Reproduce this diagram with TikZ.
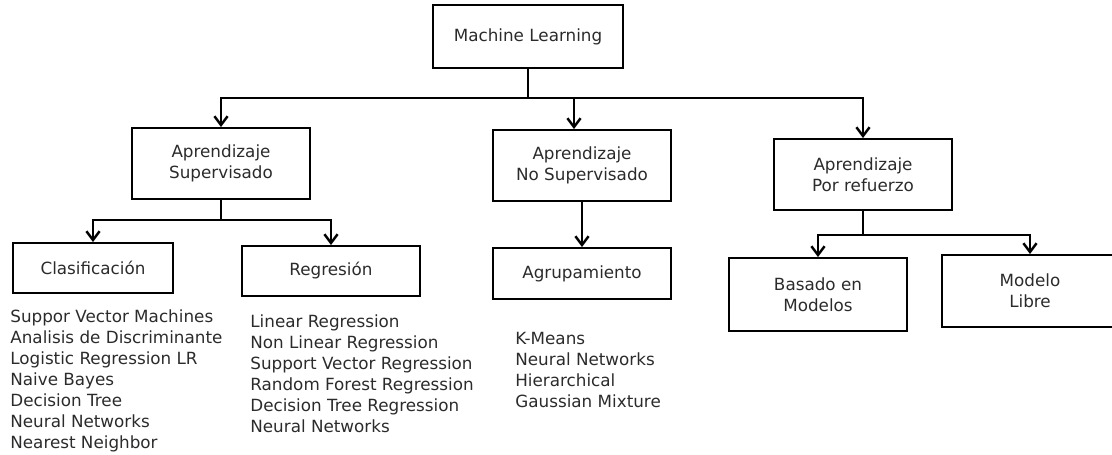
\documentclass[tikz,border=0pt]{standalone}
\usepackage{fontspec}
\setmainfont{DejaVu Sans}
\usetikzlibrary{arrows.meta,positioning}
\definecolor{cline}{HTML}{000000}
\definecolor{ctext}{HTML}{2B2B2B}

\begin{document}
\begin{tikzpicture}[x=0.02cm, y=-0.02cm,
  font=\fontsize{9.55}{11.9}\selectfont, text=ctext,
  box/.style={draw=cline, line width=1.1pt, align=center, inner sep=0pt},
  wire/.style={draw=cline, line width=1.1pt},
  arr/.style={wire, -{Straight Barb[length=5pt, width=7.5pt, line width=1.4pt]}},
  item/.style={anchor=base west, inner sep=0pt}]
\useasboundingbox (0,0) rectangle (1112,454);
%% ------------------------------------------------------------------ boxes
\node[box, minimum width=3.8cm, minimum height=1.26cm] (ml) at (528,36.5) {Machine Learning};
\node[box, minimum width=3.56cm, minimum height=1.42cm] (sup) at (221,163.5) {Aprendizaje\\Supervisado};
\node[box, minimum width=3.56cm, minimum height=1.42cm] (nosup) at (582,165.5) {Aprendizaje\\No Supervisado};
\node[box, minimum width=3.56cm, minimum height=1.42cm] (ref) at (863,174.5) {Aprendizaje\\Por refuerzo};
\node[box, minimum width=3.2cm, minimum height=1.0cm] (clas) at (93,268) {Clasificación};
\node[box, minimum width=3.56cm, minimum height=1.0cm] (reg) at (331,271) {Regresión};
\node[box, minimum width=3.56cm, minimum height=1.02cm] (agr) at (582,273.5) {Agrupamiento};
\node[box, minimum width=3.56cm, minimum height=1.46cm] (bas) at (818,294.5) {Basado en\\Modelos};
\node[box, minimum width=3.52cm, minimum height=1.44cm] (lib) at (1030,291) {Modelo\\Libre};
%% ------------------------------------------------------------------ connectors
\coordinate (bus) at (0,98);
\coordinate (sbus) at (0,220);
\coordinate (rbus) at (0,235);
\draw[wire] (ml.south) -- (ml.south |- bus);
\draw[arr] (ml.south |- bus) -| (sup.north);
\draw[arr] (ml.south |- bus) -| (ref.north);
\draw[arr] ([xshift=-0.16cm]nosup.north |- bus) -- ([xshift=-0.16cm]nosup.north);
\draw[wire] (sup.south) -- (sup.south |- sbus);
\draw[arr] (sup.south |- sbus) -| (clas.north);
\draw[arr] (sup.south |- sbus) -| (reg.north);
\draw[arr] (nosup.south) -- (agr.north);
\draw[wire] (ref.south) -- (ref.south |- rbus);
\draw[arr] (ref.south |- rbus) -| (bas.north);
\draw[arr] (ref.south |- rbus) -| (lib.north);
%% ------------------------------------------------------------------ lists
\foreach \txt [count=\i] in {Suppor Vector Machines, Analisis de Discriminante,
    Logistic Regression LR, Naive Bayes, Decision Tree, Neural Networks, Nearest Neighbor}
  \node[item] (cl\i) at (10,301+21*\i) {\txt};
\foreach \txt [count=\i] in {Linear Regression, Non Linear Regression, Support Vector Regression,
    Random Forest Regression, Decision Tree Regression, Neural Networks}
  \node[item] (rg\i) at (250,306+21*\i) {\txt};
\foreach \txt [count=\i] in {K-Means, Neural Networks, Hierarchical, Gaussian Mixture}
  \node[item] (ag\i) at (515,323+21*\i) {\txt};
\end{tikzpicture}
\end{document}
